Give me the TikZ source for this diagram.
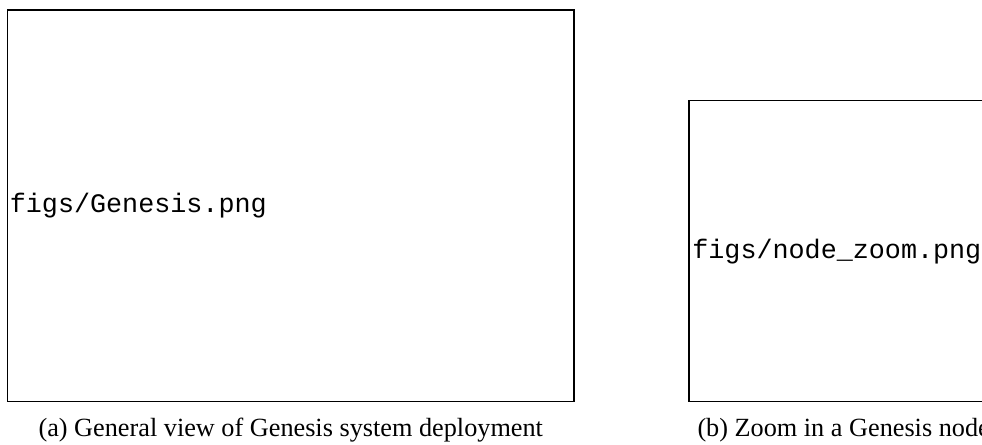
\documentclass[tikz,border=0pt]{standalone}
\usepackage{fontspec}
\setmainfont{Liberation Serif}
\setmonofont{Liberation Mono}

\tikzset{
  imgbox/.style={draw, line width=0.5pt, inner sep=0pt},
  fname/.style={font=\fontsize{10.7}{12}\selectfont\ttfamily, inner sep=0pt, anchor=west},
  subcap/.style={font=\fontsize{10.5}{12}\selectfont, inner sep=0pt},
}

\begin{document}
\begin{tikzpicture}[x=0.4pt, y=-0.4pt]
    %    \draw [help lines] (0,0) grid (982,445);
    \useasboundingbox (0,0) rectangle (982,445);
    \clip (0,0) rectangle (982,445);

    % left picture
    \path node (genesis) [imgbox, minimum width=226.6pt, minimum height=156.6pt] at (290.75,205.75) {};
    \path node (genesistxt) [fname] at ([xshift=1pt]genesis.west) {figs/Genesis.png};

    % right picture, runs off the page
    \path node (zoom) [imgbox, minimum width=160pt, minimum height=120.3pt] at (889,251.1) {};
    \path node (zoomtxt) [fname] at ([xshift=1.4pt]zoom.west) {figs/node\_zoom.png};

    % captions
    \path node (capa) [subcap, anchor=base] at (290.75,436.7) {(a) General view of Genesis system deployment};
    \path node (capb) [subcap, anchor=base west] at (697,436.7) {(b) Zoom in a Genesis node};

\end{tikzpicture}
\end{document}
